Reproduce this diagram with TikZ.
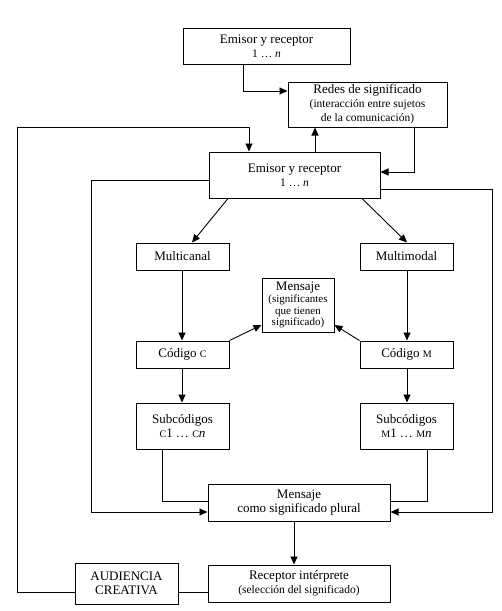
\documentclass[tikz,border=0pt]{standalone}
\usepackage{fontspec}
\setmainfont{Liberation Serif}
\usetikzlibrary{arrows.meta}
\newcommand{\sm}{\fontsize{11.5}{12.5}\selectfont}
\newcommand{\scC}{{\fontsize{10}{10}\selectfont C}}
\newcommand{\scM}{{\fontsize{10}{10}\selectfont M}}
\begin{document}
\begin{tikzpicture}[x=1pt,y=-1pt,
  box/.style={draw,line width=1pt,inner sep=0pt,align=center,font=\fontsize{13}{14}\selectfont},
  conn/.style={line width=0.9pt},
  arr/.style={conn,-{Triangle[length=8pt,width=7pt]}}]
\useasboundingbox (0,0) rectangle (502,611);
% boxes
\node[box,minimum width=167pt,minimum height=36pt] (top) at (266.5,46) {Emisor y receptor\\{\sm 1 \dots\ \textit{n}}};
\node[box,minimum width=159pt,minimum height=45pt] (redes) at (367.5,104.5) {Redes de significado\\{\sm (interacción entre sujetos}\\{\sm de la comunicación)}};
\node[box,minimum width=171pt,minimum height=46pt] (em2) at (294.5,175) {Emisor y receptor\\{\sm 1 \dots\ \textit{n}}};
\node[box,minimum width=93pt,minimum height=27pt] (mcanal) at (182.5,256.5) {Multicanal};
\node[box,minimum width=93pt,minimum height=27pt] (mmodal) at (406.5,256.5) {Multimodal};
\node[box,minimum width=72pt,minimum height=54pt,font=\fontsize{11}{11.8}\selectfont] (msg) at (298,305) {{\fontsize{13}{13}\selectfont Mensaje}\\(significantes\\que tienen\\significado)};
\node[box,minimum width=93pt,minimum height=27pt] (codC) at (182.5,354.5) {Código \scC};
\node[box,minimum width=93pt,minimum height=27pt] (codM) at (406.5,354.5) {Código \scM};
\node[box,minimum width=93pt,minimum height=46pt] (subC) at (182.5,426) {Subcódigos\\\scC1 \dots\ \scC\textit{n}};
\node[box,minimum width=93pt,minimum height=46pt] (subM) at (406.5,426) {Subcódigos\\\scM1 \dots\ \scM\textit{n}};
\node[box,minimum width=182pt,minimum height=37pt] (plural) at (299,502.5) {Mensaje\\como significado plural};
\node[box,minimum width=182pt,minimum height=37pt] (recep) at (299,583.5) {Receptor intérprete\\{\sm (selección del significado)}};
\node[box,minimum width=103pt,minimum height=41pt] (aud) at (126.5,583.5) {AUDIENCIA\\CREATIVA};
% connectors top
\draw[arr] (top.south -| 243,0) |- (redes.west |- 0,91);
\draw[arr] (em2.north -| 315,0) -- (redes.south -| 315,0);
\draw[arr] (redes.south -| 414,0) |- (em2.east |- 0,172);
% outer loop
\draw[arr] (aud.west |- 0,592) -- (17,592) -- (17,127) -| (em2.north -| 249,0);
\draw[conn] (aud.east |- 0,592) -- (recep.west |- 0,592);
% side loops
\draw[arr] (em2.west |- 0,180) -| (91,512) -- (plural.west |- 0,512);
\draw[arr] (em2.east |- 0,189) -| (492,512) -- (plural.east |- 0,512);
% diagonals
\draw[arr] (em2.south -| 228,0) -- (mcanal.north -| 192,0);
\draw[arr] (em2.south -| 362,0) -- (mmodal.north -| 407,0);
% columns
\draw[arr] (mcanal.south -| 182,0) -- (codC.north -| 182,0);
\draw[arr] (codC.south -| 182,0) -- (subC.north -| 182,0);
\draw[arr] (mmodal.south -| 407,0) -- (codM.north -| 407,0);
\draw[arr] (codM.south -| 407,0) -- (subM.north -| 407,0);
\draw[arr] (codC.north east) -- (msg.west |- 0,325);
\draw[arr] (codM.north west) -- (msg.east |- 0,325);
% to plural
\draw[conn] (subC.south -| 162,0) |- (plural.west |- 0,501);
\draw[conn] (subM.south -| 427,0) |- (plural.east |- 0,501);
\draw[arr] (plural.south -| 294,0) -- (recep.north -| 294,0);
\end{tikzpicture}
\end{document}
